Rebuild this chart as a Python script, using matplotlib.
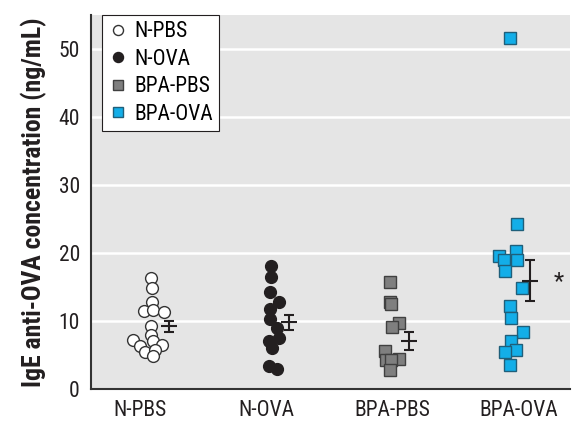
import matplotlib
matplotlib.use("Agg")
import matplotlib.pyplot as plt
import numpy as np

plt.rcParams['font.family'] = ['Roboto Condensed', 'DejaVu Sans']

groups = ["N-PBS", "N-OVA", "BPA-PBS", "BPA-OVA"]

# individual values (ng/mL) and horizontal placement (category index + jitter)
npbs_y = [16.3, 14.8, 12.8, 11.5, 11.6, 11.3, 9.3, 7.9, 7.2, 6.3, 7.0, 6.4, 5.5, 5.7, 4.8]
npbs_x = [0.085, 0.09, 0.09, 0.03, 0.10, 0.185, 0.085, 0.085, -0.06, 0.0, 0.105, 0.17, 0.04, 0.115, 0.10]
nova_y = [18.1, 16.4, 14.2, 12.8, 11.7, 10.3, 8.9, 7.5, 7.0, 6.0, 3.4, 3.0]
nova_x = [1.037, 1.037, 1.03, 1.10, 1.03, 1.03, 1.085, 1.10, 1.025, 1.045, 1.025, 1.085]
bpbs_y = [15.7, 12.8, 12.5, 9.7, 9.1, 5.6, 4.2, 4.4, 4.3, 2.8]
bpbs_x = [1.984, 1.984, 1.992, 2.05, 1.997, 1.94, 1.95, 2.05, 1.99, 1.984]
bova_y = [51.6, 24.3, 19.5, 20.3, 18.9, 18.9, 17.3, 14.8, 12.2, 10.4, 8.4, 7.0, 5.8, 5.5, 3.5]
bova_x = [2.937, 2.99, 2.844, 2.984, 2.883, 2.99, 2.897, 3.03, 2.937, 2.942, 3.038, 2.942, 2.984, 2.897, 2.937]

# group mean and SEM, as drawn
mean_x = [0.23, 1.18, 2.13, 3.09]
means = [9.2, 9.8, 7.1, 15.9]
sems = [0.85, 1.1, 1.3, 3.0]

fig = plt.figure(figsize=(5.85, 4.34), dpi=100)
ax = fig.add_axes([0.1556, 0.1037, 0.8188, 0.8617])
ax.set_facecolor('#e5e5e5')

ms = 8.5
ax.plot(npbs_x, npbs_y, 'o', ms=ms, mfc='white', mec='#333333', mew=1.0, label='N-PBS', zorder=3)
ax.plot(nova_x, nova_y, 'o', ms=ms, mfc='#231f20', mec='#231f20', mew=1.0, label='N-OVA', zorder=3)
ax.plot(bpbs_x, bpbs_y, 's', ms=ms, mfc='#7f7f7f', mec='#404040', mew=1.0, label='BPA-PBS', zorder=3)
ax.plot(bova_x, bova_y, 's', ms=ms, mfc='#13aee8', mec='#1f5f7a', mew=1.0, label='BPA-OVA', zorder=3)

ax.errorbar(mean_x, means, yerr=sems, fmt='none', ecolor='#231f20', elinewidth=1.5,
            capsize=3.8, capthick=1.5, zorder=4)
ax.plot(mean_x, means, '_', ms=11.5, mew=1.5, color='#231f20', zorder=4)

ax.text(3.32, 15.8, '*', fontsize=17, ha='center', va='center', color='#231f20')

ax.set_xlim(-0.39, 3.41)
ax.set_ylim(0, 55)
ax.set_yticks([0, 10, 20, 30, 40, 50])
ax.set_xticks(range(4))
ax.set_xticklabels(groups)
ax.grid(axis='y', color='white', lw=1.8)
ax.set_axisbelow(True)
ax.tick_params(length=0, labelsize=15.5, colors='#231f20', pad=8)
ax.tick_params(axis='y', pad=8)
for s in ['top', 'right']:
    ax.spines[s].set_visible(False)
for s in ['left', 'bottom']:
    ax.spines[s].set_color('#333333')
    ax.spines[s].set_linewidth(1.5)

ax.set_ylabel('IgE anti-OVA concentration (ng/mL)', fontsize=18.5, fontweight='bold',
              color='#231f20', labelpad=8)

leg = ax.legend(loc='upper left', bbox_to_anchor=(0.023, 1.0), borderaxespad=0,
                fontsize=15.5, markerscale=0.85, handletextpad=0.3, handlelength=0.9,
                labelspacing=0.3, fancybox=False, framealpha=1, edgecolor='#231f20',
                borderpad=0.3)
leg.get_frame().set_linewidth(0.8)

fig.savefig('out.png', dpi=100)
